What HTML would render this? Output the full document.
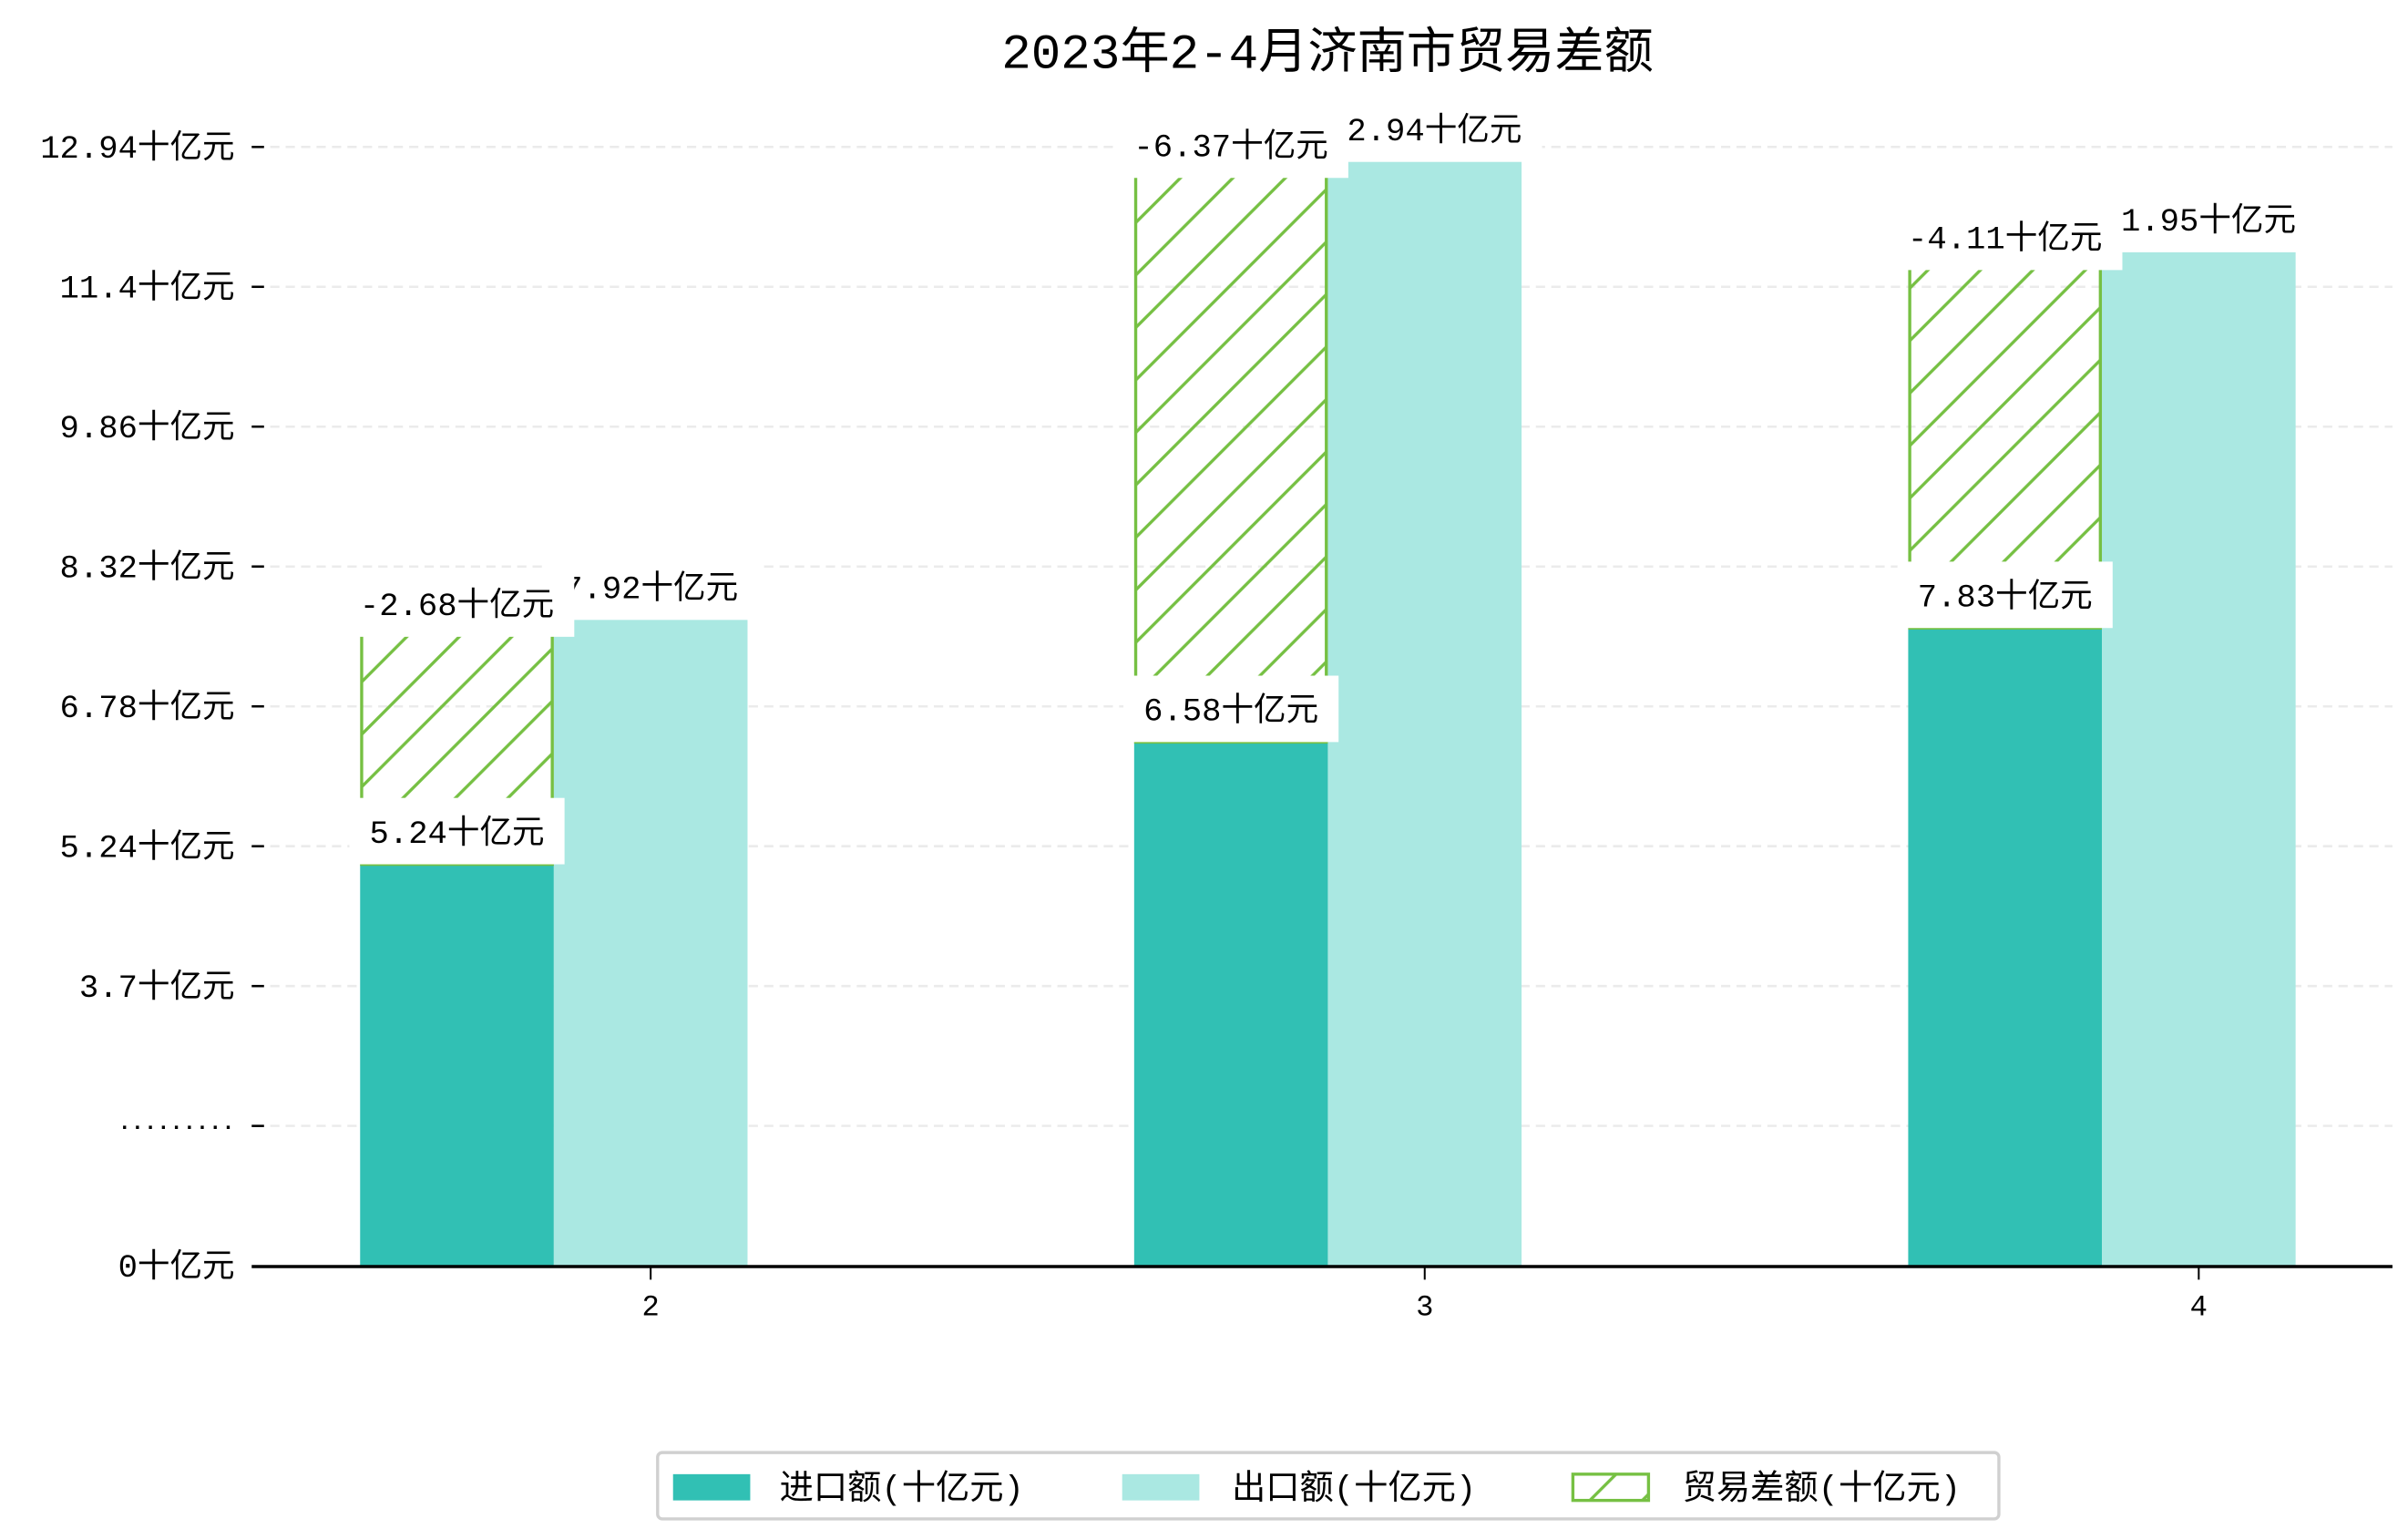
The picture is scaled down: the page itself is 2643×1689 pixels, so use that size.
<!DOCTYPE html>
<html><head><meta charset="utf-8"><style>
html,body{margin:0;padding:0;background:#fff;}
svg{display:block;}
text{font-family:"Liberation Mono","Noto Sans CJK SC",monospace;fill:#000;}
</style></head><body>
<svg id="chart" xmlns="http://www.w3.org/2000/svg" width="2643" height="1689" viewBox="0 0 1560 997">
<defs>
<pattern id="hatch" patternUnits="userSpaceOnUse" width="34" height="34" patternTransform="translate(234,0)">
<path d="M-2,36 L36,-2 M-36,36 L2,-2 M32,36 L70,-2" stroke="#76c043" stroke-width="2" fill="none"/>
</pattern>
</defs>
<rect width="1560" height="997" fill="#fff"/>
<text x="860" y="44" font-size="32" text-anchor="middle">2023年2-4月济南市贸易差额</text>
<g id="grid"></g>
<g id="bars"></g>
<g id="labels"></g>
<line x1="163" y1="820.5" x2="1550" y2="820.5" stroke="#000" stroke-width="2"/>
<g id="legend">
<rect x="426" y="941" width="869" height="43" rx="3" fill="#fff" stroke="#d0d0d0" stroke-width="2"/>
<g><rect x="436" y="955" width="50" height="17" fill="#31c0b4"/><text x="505" y="971" font-size="22">进口额(十亿元)</text></g>
<g><rect x="727" y="955" width="50" height="17" fill="#aae8e2"/><text x="798" y="971" font-size="22">出口额(十亿元)</text></g>
<g><rect x="1019" y="955" width="49" height="17" fill="url(#hatch)" stroke="#76c043" stroke-width="2"/><text x="1090" y="971" font-size="22">贸易差额(十亿元)</text></g>
</g>
</svg>
<script>
const categories = ["2", "3", "4"];
const importValues = [5.24, 6.58, 7.83];
const exportValues = [7.92, 12.94, 11.95];
const balanceValues = [-2.68, -6.37, -4.11];
const importLabels = ["5.24十亿元", "6.58十亿元", "7.83十亿元"];
const exportLabels = ["7.92十亿元", "12.94十亿元", "11.95十亿元"];
const balanceLabels = ["-2.68十亿元", "-6.37十亿元", "-4.11十亿元"];
const yTickLabels = ["0十亿元", "·········", "3.7十亿元", "5.24十亿元", "6.78十亿元", "8.32十亿元", "9.86十亿元", "11.4十亿元", "12.94十亿元"];

const NS = "http://www.w3.org/2000/svg";
function mk(tag, attrs, parent) { const e = document.createElementNS(NS, tag); for (const k in attrs) e.setAttribute(k, attrs[k]); parent.appendChild(e); return e; }
const baseY = 820;
function yScale(v) { return Math.min(baseY, 869.6 - v * 59.1); }
function xCenter(i) { return 421.5 + i * 501.5; }
function tickY(i) { return baseY - i * 90.6; }
const barW = 125.5;
function textW(s, fs) { let w = 0; for (const ch of s) w += (ch.charCodeAt(0) > 255 ? fs : fs * 0.6); return w; }

const grid = document.getElementById('grid');
yTickLabels.forEach((t, i) => {
  const y = tickY(i);
  if (i > 0) {
    const g = mk('line', {x1: 175, x2: 1550, y1: y, y2: y, stroke: '#ebebeb', 'stroke-width': 1.5, 'stroke-dasharray': '6,4'}, grid);
    
    
    const tk = mk('line', {x1: 163, x2: 171, y1: y, y2: y, stroke: '#000', 'stroke-width': 1.5}, grid);
    
    
  }
  const isDots = t.charCodeAt(0) === 183;
  const tx = mk('text', {x: 152, y: y + (isDots ? 5 : 7), 'font-size': isDots ? 14 : 21, 'font-weight': isDots ? 'bold' : 'normal', 'text-anchor': 'end'}, grid);
  tx.textContent = t;
  
  
});

const bars = document.getElementById('bars');
const labels = document.getElementById('labels');
function label(cx, cy, txt, name) {
  const w = textW(txt, 21) + 26;
  const r = mk('rect', {x: cx - w / 2, y: cy - 21, width: w, height: 43, fill: '#fff'}, labels);
  
  
  const t = mk('text', {x: cx, y: cy + 8, 'font-size': 21, 'text-anchor': 'middle'}, labels);
  t.textContent = txt;
  
  
}
categories.forEach((c, i) => {
  const cx = xCenter(i);
  const xi = cx - 1.5 * barW, xe = cx - 0.5 * barW;
  const yi = yScale(importValues[i]);
  const ye = yScale(exportValues[i]);
  const yb = yScale(importValues[i] + Math.abs(balanceValues[i]));
  const bi = mk('rect', {x: xi, y: yi, width: barW, height: baseY - yi, fill: '#31c0b4'}, bars);
  
  
  const be = mk('rect', {x: xe, y: ye, width: barW, height: baseY - ye, fill: '#aae8e2'}, bars);
  
  
  const bb = mk('rect', {x: xi + 1, y: yb, width: barW - 2, height: yi - yb, fill: 'url(#hatch)', stroke: '#76c043', 'stroke-width': 2}, bars);
  
  
  const xt = mk('line', {x1: cx, x2: cx, y1: 821, y2: 829, stroke: '#000', 'stroke-width': 1.2}, bars);
  
  
  const xl = mk('text', {x: cx, y: 852, 'font-size': 19, 'text-anchor': 'middle'}, bars);
  xl.textContent = c;
  
  
  label(xe + barW / 2, ye - 22, exportLabels[i], 'export-value-label');
  label(xi + barW / 2, yb - 11, balanceLabels[i], 'balance-value-label');
  label(xi + barW / 2, yi - 22, importLabels[i], 'import-value-label');
});
</script>
</body></html>
